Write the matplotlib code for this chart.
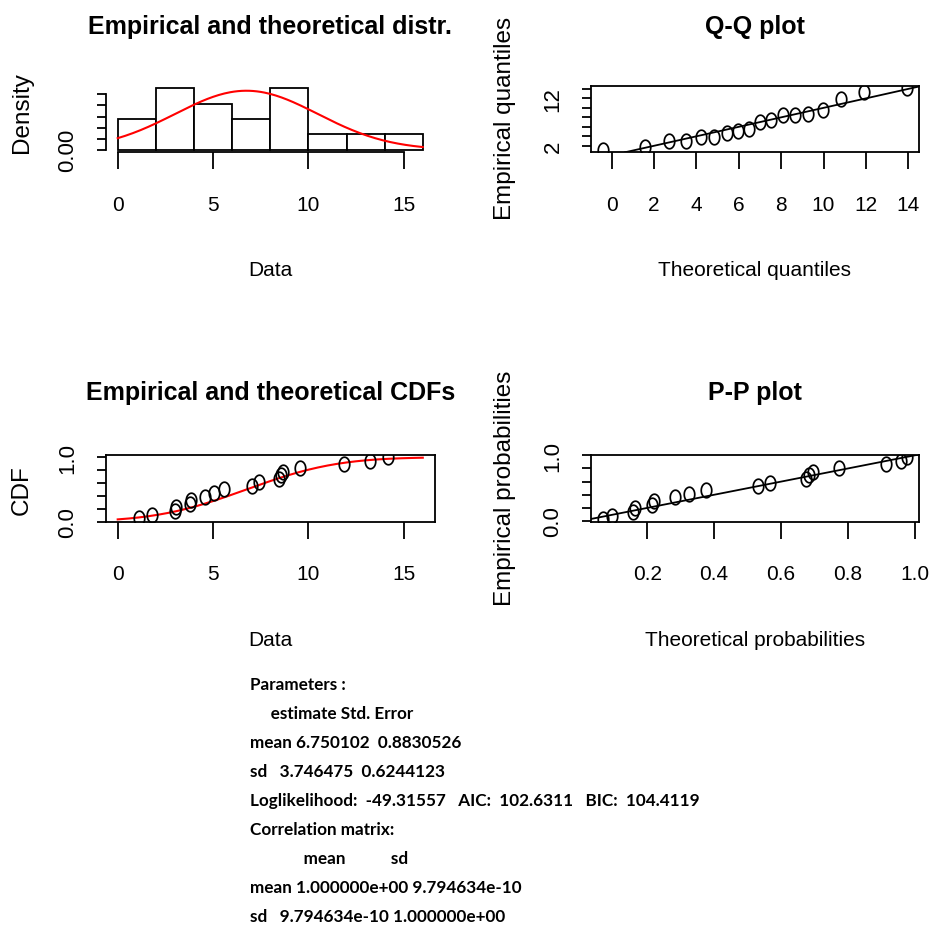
from statistics import NormalDist

import matplotlib

matplotlib.use("Agg")
import matplotlib.pyplot as plt
import numpy as np
from matplotlib.path import Path


data = [1.14, 1.80, 3.00, 3.06, 3.78, 3.86, 4.60, 5.04, 5.56,
        7.05, 7.40, 8.45, 8.56, 8.66, 9.58, 11.89, 13.25, 14.16]
breaks = [0, 2, 4, 6, 8, 10, 12, 14, 16]

# fitted normal, from the printed summary
mean_est = 6.750102
sd_est = 3.746475

summary_lines = [
    "Parameters :",
    "     estimate Std. Error",
    "mean 6.750102  0.8830526",
    "sd   3.746475  0.6244123",
    "Loglikelihood:  -49.31557   AIC:  102.6311   BIC:  104.4119",
    "Correlation matrix:",
    "             mean           sd",
    "mean 1.000000e+00 9.794634e-10",
    "sd   9.794634e-10 1.000000e+00",
]

W, H = 930, 928
plt.rcParams["font.family"] = ["Liberation Sans", "DejaVu Sans"]
plt.rcParams["axes.linewidth"] = 1.3
plt.rcParams["xtick.major.width"] = 1.3
plt.rcParams["ytick.major.width"] = 1.3

LABEL_SIZE = 15
YLABEL_SIZE = 17.5
TITLE_SIZE = 18


def r_lim(lo, hi):
    # R's default 4% axis expansion
    pad = 0.04 * (hi - lo)
    return lo - pad, hi + pad


def make_axes(fig, x0, x1, y0, y1):
    return fig.add_axes([x0 / W, 1 - y1 / H, (x1 - x0) / W, (y1 - y0) / H])


def style_axes(ax, xticks, xlabels, yticks, ylabels):
    ax.set_xticks(xticks, xlabels)
    ax.set_yticks(yticks, ylabels)
    ax.tick_params(axis="x", length=12, pad=18.5, labelsize=LABEL_SIZE)
    ax.tick_params(axis="y", length=6.5, pad=13, labelsize=16)
    for lab in ax.get_yticklabels():
        lab.set_rotation(90)
        lab.set_va("center")


def fig_text(fig, x, y, s, **kw):
    fig.text(x / W, 1 - y / H, s, ha="center", va="center", **kw)


def main() -> None:
    x = np.sort(np.array(data))
    n = len(x)
    dist = NormalDist(mean_est, sd_est)
    ppts = (np.arange(1, n + 1) - 0.5) / n
    tq = np.array([dist.inv_cdf(p) for p in ppts])
    tp = np.array([dist.cdf(v) for v in x])
    ecdf = np.arange(1, n + 1) / n
    grid = np.linspace(0, 16, 161)

    ell = np.linspace(0, 2 * np.pi, 40)
    pt_marker = Path(np.column_stack([0.72 * np.cos(ell), np.sin(ell)]), closed=True)
    pt_style = dict(ls="none", marker=pt_marker, ms=10.5, mfc="none", mec="black", mew=1.25)

    fig = plt.figure(figsize=(W / 100, H / 100), dpi=100)

    left = (105.5, 435.0)
    right = (590.7, 918.7)
    top = (86.7, 153.3)
    bottom = (455.7, 522.7)

    # histogram + fitted density
    ax = make_axes(fig, *left, *top)
    ax.hist(x, bins=breaks, density=True, facecolor="white", edgecolor="black", linewidth=1.3)
    ax.plot(grid, [dist.pdf(g) for g in grid], color="red", lw=1.5)
    ax.set_xlim(r_lim(0, 16))
    dens_max = np.histogram(x, bins=breaks, density=True)[0].max()
    ax.set_ylim(r_lim(0, dens_max))
    for side in ("top", "right"):
        ax.spines[side].set_visible(False)
    ax.spines["bottom"].set_bounds(0, 15)
    ax.spines["left"].set_bounds(0, 0.10)
    dticks = [0, 0.02, 0.04, 0.06, 0.08, 0.10]
    style_axes(ax, [0, 5, 10, 15], ["0", "5", "10", "15"],
               dticks, ["0.00", "", "", "", "", ""])

    # Q-Q plot
    ax = make_axes(fig, *right, *top)
    ax.plot(tq, x, **pt_style)
    ax.axline((0, 0), slope=1, color="black", lw=1.3)
    ax.set_xlim(r_lim(tq.min(), tq.max()))
    ax.set_ylim(r_lim(x.min(), x.max()))
    qticks = list(range(2, 15, 2))
    style_axes(ax, list(range(0, 15, 2)), [str(v) for v in range(0, 15, 2)],
               qticks, ["2", "", "", "", "", "12", ""])

    # empirical vs theoretical CDF
    ax = make_axes(fig, *left, *bottom)
    ax.plot(grid, [dist.cdf(g) for g in grid], color="red", lw=1.5)
    ax.plot(x, ecdf, **pt_style)
    ax.set_xlim(r_lim(0, 16))
    ax.set_ylim(0, 1.04)
    pticks = [0, 0.2, 0.4, 0.6, 0.8, 1.0]
    style_axes(ax, [0, 5, 10, 15], ["0", "5", "10", "15"],
               pticks, ["0.0", "", "", "", "", "1.0"])

    # P-P plot
    ax = make_axes(fig, *right, *bottom)
    ax.plot(tp, ppts, **pt_style)
    ax.axline((0, 0), slope=1, color="black", lw=1.3)
    ax.set_xlim(r_lim(tp.min(), tp.max()))
    ax.set_ylim(r_lim(ppts.min(), ppts.max()))
    style_axes(ax, [0.2, 0.4, 0.6, 0.8, 1.0], ["0.2", "0.4", "0.6", "0.8", "1.0"],
               pticks, ["0.0", "", "", "", "", "1.0"])

    lc = sum(left) / 2
    rc = sum(right) / 2
    fig_text(fig, lc, 27, "Empirical and theoretical distr.", fontsize=TITLE_SIZE, weight="bold")
    fig_text(fig, rc, 27, "Q-Q plot", fontsize=TITLE_SIZE, weight="bold")
    fig_text(fig, lc, 393, "Empirical and theoretical CDFs", fontsize=TITLE_SIZE, weight="bold")
    fig_text(fig, rc, 393, "P-P plot", fontsize=TITLE_SIZE, weight="bold")

    fig_text(fig, lc, 270, "Data", fontsize=LABEL_SIZE)
    fig_text(fig, rc, 270, "Theoretical quantiles", fontsize=LABEL_SIZE)
    fig_text(fig, lc, 640, "Data", fontsize=LABEL_SIZE)
    fig_text(fig, rc, 640, "Theoretical probabilities", fontsize=LABEL_SIZE)

    fig_text(fig, 22, 113, "Density", fontsize=YLABEL_SIZE, rotation=90)
    fig_text(fig, 505, 118, "Empirical quantiles", fontsize=YLABEL_SIZE, rotation=90)
    fig_text(fig, 22, 490, "CDF", fontsize=YLABEL_SIZE, rotation=90)
    fig_text(fig, 505, 488, "Empirical probabilities", fontsize=YLABEL_SIZE, rotation=90)

    for i, line in enumerate(summary_lines):
        fig.text(250 / W, 1 - (685 + 29 * i) / H, line, ha="left", va="center",
                 fontsize=12.3, weight="bold", family=["Lato", "DejaVu Sans"])

    fig.savefig("out.png", dpi=100)
    plt.close(fig)


if __name__ == "__main__":
    main()
